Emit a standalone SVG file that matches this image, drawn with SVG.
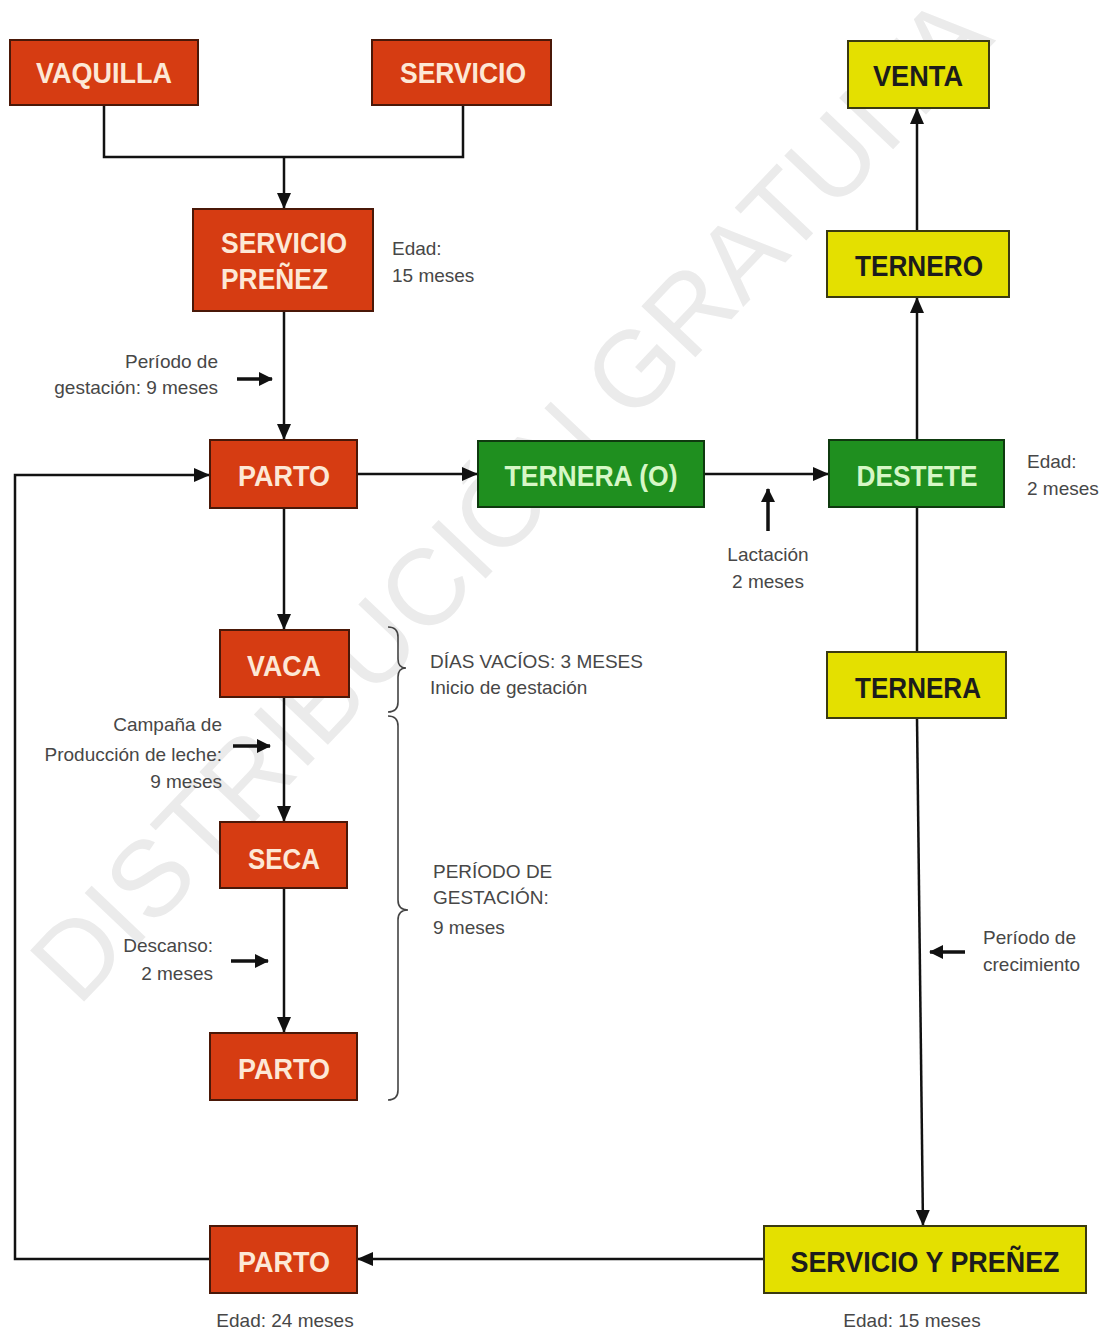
<svg xmlns="http://www.w3.org/2000/svg" width="1108" height="1333" viewBox="0 0 1108 1333">
  <style>
    .red rect { fill: #d63c12; stroke: #4a1808; stroke-width: 2; }
    .red text { fill: #fde8d6; }
    .green rect { fill: #1f8f1f; stroke: #0f3a0f; stroke-width: 2; }
    .green text { fill: #d6f7c6; }
    .yellow rect { fill: #e4e000; stroke: #3a3a10; stroke-width: 2; }
    .yellow text { fill: #1c1c1c; }
    .node text { font-family: "Liberation Sans", Arial, sans-serif; font-weight: bold; font-size: 29px; }
    .lbl { font-family: "Liberation Sans", Arial, sans-serif; font-size: 19px; fill: #474747; }
    .end { text-anchor: end; }
    .mid { text-anchor: middle; }
    .conn path, .conn line { fill: none; stroke: #111; stroke-width: 2.5; }
    .tick line { stroke: #111; stroke-width: 3.5; }
    .brace { fill: none; stroke: #444; stroke-width: 1.6; }
    .wm { font-family: "Liberation Sans", Arial, sans-serif; font-size: 108px; fill: #ebebeb; }
  </style>
  <defs>
    <marker id="arr" markerUnits="userSpaceOnUse" viewBox="0 0 16 14" markerWidth="16" markerHeight="14" refX="16" refY="7" orient="auto">
      <path d="M0,0 L16,7 L0,14 z" fill="#111"/>
    </marker>
    <marker id="arrS" markerUnits="userSpaceOnUse" viewBox="0 0 14 14" markerWidth="14" markerHeight="14" refX="13" refY="7" orient="auto">
      <path d="M0,0 L14,7 L0,14 z" fill="#111"/>
    </marker>
  </defs>

  <rect width="1108" height="1333" fill="#ffffff"/>

  <!-- background watermark -->
  <text class="wm" transform="translate(78,1008) rotate(-46.5)">DISTRIBUCIÓN GRATUITA</text>

  <!-- connectors -->
  <g id="connectors" class="conn">
    <path d="M104,105 V157 H463 V105"/>
    <path d="M284,157 V209" marker-end="url(#arr)"/>
    <path d="M284,311 V440" marker-end="url(#arr)"/>
    <path d="M357,474 H478" marker-end="url(#arr)"/>
    <path d="M704,474 H829" marker-end="url(#arr)"/>
    <path d="M917,440 V297" marker-end="url(#arr)"/>
    <path d="M917,231 V108" marker-end="url(#arr)"/>
    <path d="M917,507 V652"/>
    <path d="M917,718 L923,1226" marker-end="url(#arr)"/>
    <path d="M764,1259 H357" marker-end="url(#arr)"/>
    <path d="M210,1259 H15 V475 H210" marker-end="url(#arr)"/>
    <path d="M284,508 V630" marker-end="url(#arr)"/>
    <path d="M284,697 V822" marker-end="url(#arr)"/>
    <path d="M284,888 V1033" marker-end="url(#arr)"/>
    <g class="tick">
      <line x1="237" y1="379" x2="272" y2="379" marker-end="url(#arrS)"/>
      <line x1="233" y1="746" x2="270" y2="746" marker-end="url(#arrS)"/>
      <line x1="231" y1="961" x2="268" y2="961" marker-end="url(#arrS)"/>
      <line x1="768" y1="531" x2="768" y2="489" marker-end="url(#arrS)"/>
      <line x1="965" y1="952" x2="930" y2="952" marker-end="url(#arrS)"/>
    </g>
  </g>

  <!-- braces -->
  <path class="brace" d="M388,627 Q398,627 398,637 V659 Q398,668 406,668 Q398,668 398,677 V702 Q398,712 388,712"/>
  <path class="brace" d="M388,716 Q398,716 398,726 V900 Q398,910 408,910 Q398,910 398,920 V1090 Q398,1100 388,1100"/>

  <!-- nodes -->
  <g id="vaquilla" class="node red">
    <rect x="10" y="40" width="188" height="65"/>
    <text x="104" y="83" text-anchor="middle" textLength="136" lengthAdjust="spacingAndGlyphs">VAQUILLA</text>
  </g>
  <g id="servicio" class="node red">
    <rect x="372" y="40" width="179" height="65"/>
    <text x="463" y="83" text-anchor="middle" textLength="126" lengthAdjust="spacingAndGlyphs">SERVICIO</text>
  </g>
  <g id="servicio-prenez" class="node red">
    <rect x="193" y="209" width="180" height="102"/>
    <text x="221" y="253" textLength="126" lengthAdjust="spacingAndGlyphs">SERVICIO</text>
    <text x="221" y="289" textLength="107" lengthAdjust="spacingAndGlyphs">PREÑEZ</text>
  </g>
  <g id="parto-1" class="node red">
    <rect x="210" y="440" width="147" height="68"/>
    <text x="284" y="486" text-anchor="middle" textLength="92" lengthAdjust="spacingAndGlyphs">PARTO</text>
  </g>
  <g id="ternera-o" class="node green">
    <rect x="478" y="441" width="226" height="66"/>
    <text x="591" y="486" text-anchor="middle" textLength="173" lengthAdjust="spacingAndGlyphs">TERNERA (O)</text>
  </g>
  <g id="destete" class="node green">
    <rect x="829" y="440" width="175" height="67"/>
    <text x="917" y="486" text-anchor="middle" textLength="121" lengthAdjust="spacingAndGlyphs">DESTETE</text>
  </g>
  <g id="venta" class="node yellow">
    <rect x="848" y="41" width="141" height="67"/>
    <text x="918" y="86" text-anchor="middle" textLength="90" lengthAdjust="spacingAndGlyphs">VENTA</text>
  </g>
  <g id="ternero" class="node yellow">
    <rect x="827" y="231" width="182" height="66"/>
    <text x="919" y="276" text-anchor="middle" textLength="128" lengthAdjust="spacingAndGlyphs">TERNERO</text>
  </g>
  <g id="ternera" class="node yellow">
    <rect x="827" y="652" width="179" height="66"/>
    <text x="918" y="698" text-anchor="middle" textLength="126" lengthAdjust="spacingAndGlyphs">TERNERA</text>
  </g>
  <g id="vaca" class="node red">
    <rect x="220" y="630" width="129" height="67"/>
    <text x="284" y="676" text-anchor="middle" textLength="74" lengthAdjust="spacingAndGlyphs">VACA</text>
  </g>
  <g id="seca" class="node red">
    <rect x="220" y="822" width="127" height="66"/>
    <text x="284" y="869" text-anchor="middle" textLength="72" lengthAdjust="spacingAndGlyphs">SECA</text>
  </g>
  <g id="parto-2" class="node red">
    <rect x="210" y="1033" width="147" height="67"/>
    <text x="284" y="1079" text-anchor="middle" textLength="92" lengthAdjust="spacingAndGlyphs">PARTO</text>
  </g>
  <g id="parto-3" class="node red">
    <rect x="210" y="1226" width="147" height="67"/>
    <text x="284" y="1272" text-anchor="middle" textLength="92" lengthAdjust="spacingAndGlyphs">PARTO</text>
  </g>
  <g id="servicio-y-prenez" class="node yellow">
    <rect x="764" y="1226" width="322" height="67"/>
    <text x="925" y="1272" text-anchor="middle" textLength="269" lengthAdjust="spacingAndGlyphs">SERVICIO Y PREÑEZ</text>
  </g>

  <!-- annotations -->
  <g id="labels">
    <text class="lbl" x="392" y="255">Edad:</text>
    <text class="lbl" x="392" y="282">15 meses</text>
    <text class="lbl end" x="218" y="368">Período de</text>
    <text class="lbl end" x="218" y="394">gestación: 9 meses</text>
    <text class="lbl" x="1027" y="468">Edad:</text>
    <text class="lbl" x="1027" y="495">2 meses</text>
    <text class="lbl mid" x="768" y="561">Lactación</text>
    <text class="lbl mid" x="768" y="588">2 meses</text>
    <text class="lbl" x="430" y="668">DÍAS VACÍOS: 3 MESES</text>
    <text class="lbl" x="430" y="694">Inicio de gestación</text>
    <text class="lbl end" x="222" y="731">Campaña de</text>
    <text class="lbl end" x="222" y="761">Producción de leche:</text>
    <text class="lbl end" x="222" y="788">9 meses</text>
    <text class="lbl" x="433" y="878">PERÍODO DE</text>
    <text class="lbl" x="433" y="904">GESTACIÓN:</text>
    <text class="lbl" x="433" y="934">9 meses</text>
    <text class="lbl end" x="213" y="952">Descanso:</text>
    <text class="lbl end" x="213" y="980">2 meses</text>
    <text class="lbl" x="983" y="944">Período de</text>
    <text class="lbl" x="983" y="971">crecimiento</text>
    <text class="lbl mid" x="285" y="1327">Edad: 24 meses</text>
    <text class="lbl mid" x="912" y="1327">Edad: 15 meses</text>
  </g>
</svg>
